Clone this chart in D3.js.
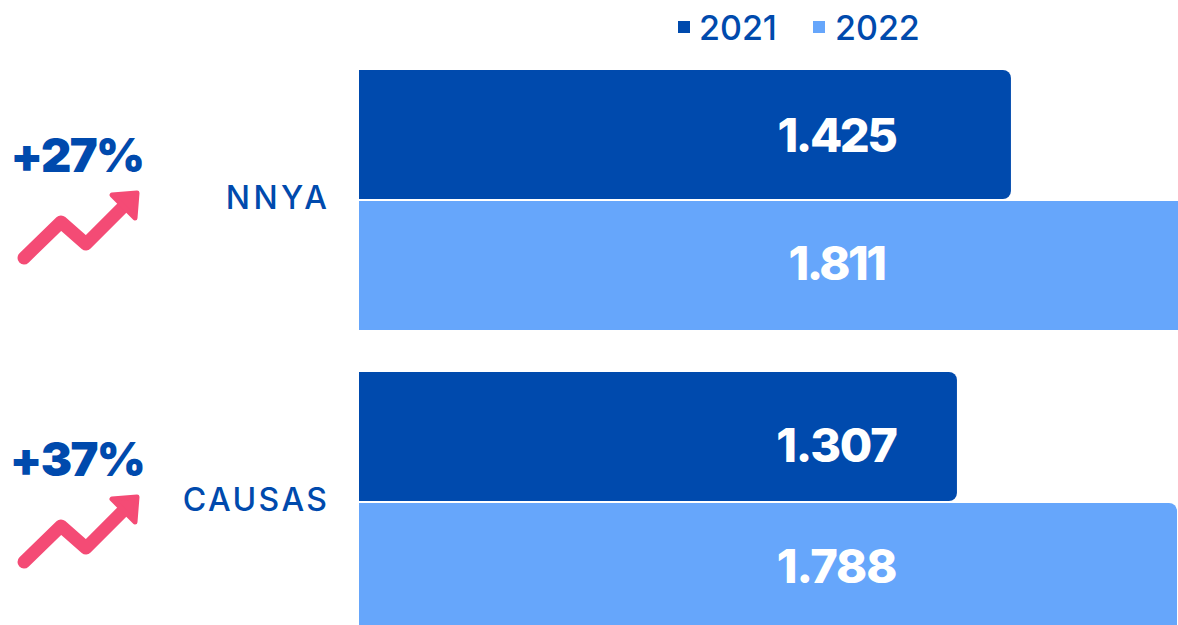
<!DOCTYPE html>
<html>
<head>
<meta charset="utf-8">
<script src="https://cdnjs.cloudflare.com/ajax/libs/d3/7.8.5/d3.min.js"></script>
<style>
html,body{margin:0;padding:0;background:#fff;overflow:hidden}
svg{display:block}
text{font-family:Inter,"Open Sans",sans-serif}
</style>
</head>
<body>
<div id="chart"></div>
<script>
const categories = ["NNYA", "CAUSAS"];
const years = ["2021", "2022"];
const values2021 = [1425, 1307];
const values2022 = [1811, 1788];
const changes = ["+27%", "+37%"];
const colors = ["#004AAD", "#66A6FB"];
const pink = "#F44B75";

const W = 1178, H = 625;
const svg = d3.select("#chart").append("svg").attr("width", W).attr("height", H);

const x = d3.scaleLinear().domain([0, 1000]).range([359, 359 + 457.5]);
const y0 = d3.scaleBand().domain(categories).range([70, 70 + 302 * 2]).paddingInner(0).paddingOuter(0);
const barH = 129, barGap = 2;
const fmt = v => d3.format(".3f")(v / 1000);
const labelBaseline = [[152, 280], [462, 583]];
const labelSpacing = [-2.5, -1.2];
const catSpacing = [3.4, 2.4];
const arrowShift = [0, 2];

function barPath(x0, x1, top, h, r) {
  const p = d3.path();
  p.moveTo(x0, top);
  p.lineTo(x1 - r, top);
  p.arcTo(x1, top, x1, top + r, r);
  p.lineTo(x1, top + h - r);
  p.arcTo(x1, top + h, x1 - r, top + h, r);
  p.lineTo(x0, top + h);
  p.closePath();
  return p.toString();
}

categories.forEach((c, i) => {
  const top = y0(c);
  const row = [values2021[i], values2022[i]];
  row.forEach((v, j) => {
    const by = top + j * (barH + barGap);
    svg.append("path")
      .attr("d", barPath(x(0), x(v), by, barH, 8))
      .attr("fill", colors[j]);
    svg.append("text")
      .attr("x", 836.5).attr("y", labelBaseline[i][j])
      .attr("text-anchor", "middle")
      .attr("font-size", 47).attr("font-weight", 800)
      .attr("letter-spacing", labelSpacing[i])
      .attr("fill", "#fff")
      .text(fmt(v));
  });

  svg.append("text")
    .attr("x", 327 + catSpacing[i]).attr("y", top + 138.5)
    .attr("text-anchor", "end")
    .attr("font-size", 32).attr("font-weight", 500)
    .attr("letter-spacing", catSpacing[i])
    .attr("fill", colors[0])
    .text(c);

  svg.append("text")
    .attr("x", 77).attr("y", top + 102 + arrowShift[i])
    .attr("text-anchor", "middle")
    .attr("font-size", 47).attr("font-weight", 900)
    .attr("letter-spacing", -1.6)
    .attr("fill", colors[0])
    .text(changes[i]);

  const g = svg.append("g").attr("transform", `translate(0,${top + arrowShift[i]})`);
  g.append("path")
    .attr("d", d3.line()([[24, 188], [61, 152], [86, 174], [130, 130]]))
    .attr("fill", "none").attr("stroke", pink)
    .attr("stroke-width", 13).attr("stroke-linecap", "round").attr("stroke-linejoin", "round");
  g.append("path")
    .attr("d", d3.line()([[112, 125], [137, 123], [135, 148]]) + "Z")
    .attr("fill", pink).attr("stroke", pink)
    .attr("stroke-width", 5).attr("stroke-linejoin", "round");
});

// legend
const legendX = [678, 813], legendTextX = [699, 835];
years.forEach((t, i) => {
  svg.append("rect")
    .attr("x", legendX[i]).attr("y", 21).attr("width", 12).attr("height", 12)
    .attr("fill", colors[i]);
  svg.append("text")
    .attr("x", legendTextX[i]).attr("y", 40)
    .attr("font-size", 34).attr("font-weight", 500)
    .attr("fill", colors[0])
    .text(t);
});
</script>
</body>
</html>
